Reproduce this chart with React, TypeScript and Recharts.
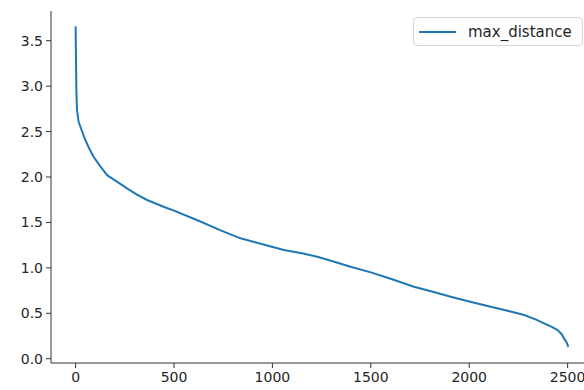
import React from 'react';
import { LineChart, Line, XAxis, YAxis, Legend } from 'recharts';

const indices = [
  0, 2, 4, 7, 15, 30, 49, 70, 92, 125, 160, 210, 261, 310, 363, 450, 500, 634, 740, 838,
  950, 1058, 1150, 1228, 1310, 1397, 1500, 1601, 1719, 1810, 1906, 2000, 2109, 2200, 2279,
  2340, 2380, 2420, 2449, 2470, 2482, 2495, 2504,
];

const maxDistance = [
  3.66, 3.3, 2.95, 2.74, 2.61, 2.52, 2.41, 2.31, 2.22, 2.12, 2.02, 1.95, 1.875, 1.81, 1.747,
  1.67, 1.63, 1.51, 1.41, 1.325, 1.26, 1.196, 1.16, 1.123, 1.07, 1.013, 0.95, 0.88, 0.792,
  0.74, 0.682, 0.63, 0.572, 0.525, 0.481, 0.43, 0.39, 0.35, 0.316, 0.27, 0.224, 0.18, 0.13,
];

const xTicks = [0, 500, 1000, 1500, 2000, 2500];
const yTicks = [0, 0.5, 1, 1.5, 2, 2.5, 3, 3.5];

const data = indices.map((i, k) => ({ index: i, max_distance: maxDistance[k] }));

const X_DOMAIN: [number, number] = [-125, 2629];
const Y_DOMAIN: [number, number] = [-0.047, 3.827];

const FONT = 'DejaVu Sans, sans-serif';
const INK = '#333';

const tickStyle = { fontFamily: FONT, fontSize: 14, fill: '#262626' };

function renderLegend(props: any) {
  const item = props.payload?.[0];
  return (
    <div
      style={{
        display: 'flex',
        alignItems: 'center',
        height: 29,
        width: 170,
        boxSizing: 'border-box',
        border: '1px solid #d6d6d6',
        borderRadius: 4,
        background: 'rgba(255,255,255,0.8)',
        fontFamily: FONT,
        fontSize: 15,
        color: '#262626',
        whiteSpace: 'nowrap',
      }}
    >
      <svg width={50} height={10} style={{ marginLeft: 4, flexShrink: 0 }}>
        <line x1={1} y1={5} x2={38} y2={5} stroke="#1f77b4" strokeWidth={2} />
      </svg>
      <span>{item?.value ?? 'max_distance'}</span>
    </div>
  );
}

export default function App() {
  return (
    <div
      style={{
        position: 'absolute',
        left: 0,
        top: 0,
        width: 584,
        height: 390,
        overflow: 'hidden',
        background: '#fff',
      }}
    >
      <LineChart width={600} height={390} data={data} margin={{ top: 11, right: 7, bottom: 0, left: 0 }}>
        <XAxis
          dataKey="index"
          type="number"
          domain={X_DOMAIN}
          ticks={xTicks}
          allowDataOverflow
          height={27}
          tickSize={5}
          tickMargin={4}
          tick={tickStyle}
          stroke={INK}
          interval={0}
        />
        <XAxis
          xAxisId="top"
          orientation="top"
          type="number"
          domain={X_DOMAIN}
          allowDataOverflow
          height={0}
          tick={false}
          tickLine={false}
          stroke={INK}
        />
        <YAxis
          type="number"
          domain={Y_DOMAIN}
          ticks={yTicks}
          allowDataOverflow
          width={51}
          tickSize={5}
          tickMargin={3}
          tick={tickStyle}
          tickFormatter={(v: number) => v.toFixed(1)}
          stroke={INK}
          interval={0}
        />
        <Legend
          layout="vertical"
          align="center"
          verticalAlign="middle"
          content={renderLegend}
          wrapperStyle={{ top: 17, left: 413, width: 170, height: 29 }}
        />
        <Line
          type="linear"
          dataKey="max_distance"
          stroke="#1f77b4"
          strokeWidth={2}
          dot={false}
          isAnimationActive={false}
        />
      </LineChart>
    </div>
  );
}
